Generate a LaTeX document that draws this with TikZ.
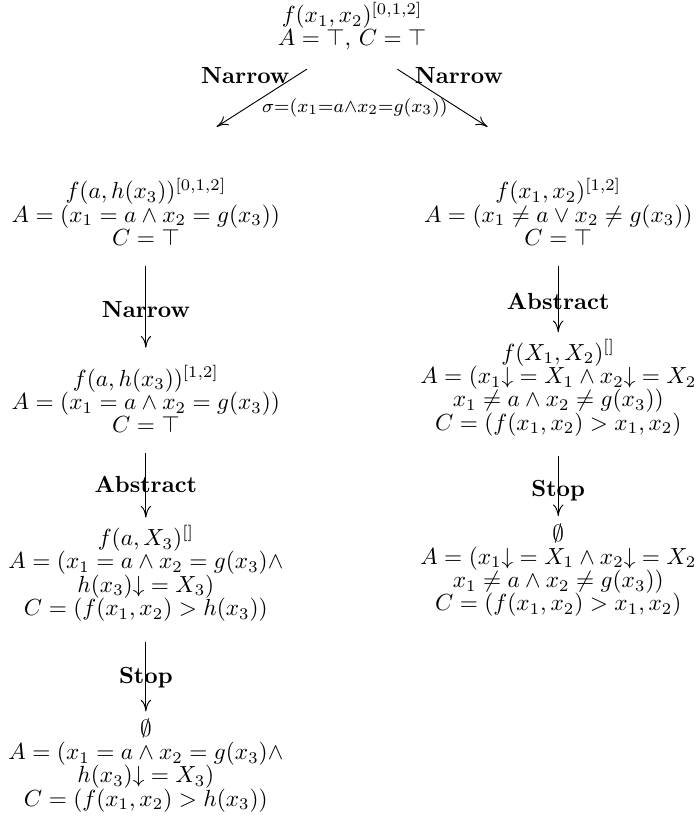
\documentclass[tikz,border=0pt]{standalone}
\usetikzlibrary{arrows.meta,positioning,calc}
\tikzset{
  term/.style={align=center, inner sep=2.5pt, font=\fontsize{10}{10}\selectfont},
  ar/.style={-{Computer Modern Rightarrow[length=5pt,width=4.5pt]},
             shorten <=6pt, shorten >=0.5pt},
  lbl/.style={font=\bfseries},
  subst/.style={font=\footnotesize},
}
\begin{document}
\begin{tikzpicture}
  \useasboundingbox (-151.1pt,-1.9pt) rectangle (147.6pt,-353.4pt);

  % ============ root ============
  \node[term, anchor=north] (root) at (0,0)
    {$f(x_1,x_2)^{[0,1,2]}$\\ $A=\top$, $C=\top$};

  % ============ left branch: narrowed by sigma ============
  \node[term, anchor=north] (l1) at ($(root.south)+(-31.1mm,-17.4mm)$)
    {$f(a,h(x_3))^{[0,1,2]}$\\
     $A=(x_1=a\wedge x_2=g(x_3))$\\
     $C=\top$};
  \node[term, below=16.2mm of l1] (l2)
    {$f(a,h(x_3))^{[1,2]}$\\
     $A=(x_1=a\wedge x_2=g(x_3))$\\
     $C=\top$};
  \node[term, below=12.0mm of l2] (l3)
    {$f(a,X_3)^{[]}$\\
     $A=(x_1=a\wedge x_2=g(x_3)\wedge$\\
     $h(x_3){\downarrow}=X_3)$\\
     $C=(f(x_1,x_2)>h(x_3))$};
  \node[term, below=12.8mm of l3] (l4)
    {$\emptyset$\\
     $A=(x_1=a\wedge x_2=g(x_3)\wedge$\\
     $h(x_3){\downarrow}=X_3)$\\
     $C=(f(x_1,x_2)>h(x_3))$};

  % ============ right branch: the complement ============
  \node[term, anchor=north] (r1) at ($(root.south)+(31.1mm,-17.4mm)$)
    {$f(x_1,x_2)^{[1,2]}$\\
     $A=(x_1\neq a\vee x_2\neq g(x_3))$\\
     $C=\top$};
  \node[term, below=12.3mm of r1] (r2)
    {$f(X_1,X_2)^{[]}$\\
     $A=(x_1{\downarrow}=X_1\wedge x_2{\downarrow}=X_2$\\
     $x_1\neq a\wedge x_2\neq g(x_3))$\\
     $C=(f(x_1,x_2)>x_1,x_2)$};
  \node[term, below=11.3mm of r2] (r3)
    {$\emptyset$\\
     $A=(x_1{\downarrow}=X_1\wedge x_2{\downarrow}=X_2$\\
     $x_1\neq a\wedge x_2\neq g(x_3))$\\
     $C=(f(x_1,x_2)>x_1,x_2)$};

  % ============ steps ============
  \draw[ar, shorten <=10pt, shorten >=36pt] (root.230) -- (l1.north)
    node[lbl, pos=0.16, left] {Narrow}
    node[subst, pos=0.44, right, xshift=3pt] {$\sigma{=}(x_1{=}a{\wedge}x_2{=}g(x_3))$};
  \draw[ar, shorten <=10pt, shorten >=36pt] (root.310) -- (r1.north)
    node[lbl, pos=0.16, right] {Narrow};

  \draw[ar, shorten >=5pt] (l1) -- (l2) node[lbl, pos=0.54] {Narrow};
  \draw[ar] (l2) -- (l3) node[lbl, pos=0.57] {Abstract};
  \draw[ar] (l3) -- (l4) node[lbl, pos=0.59] {Stop};

  \draw[ar] (r1) -- (r2) node[lbl, pos=0.61] {Abstract};
  \draw[ar] (r2) -- (r3) node[lbl, pos=0.64] {Stop};

\end{tikzpicture}
\end{document}
